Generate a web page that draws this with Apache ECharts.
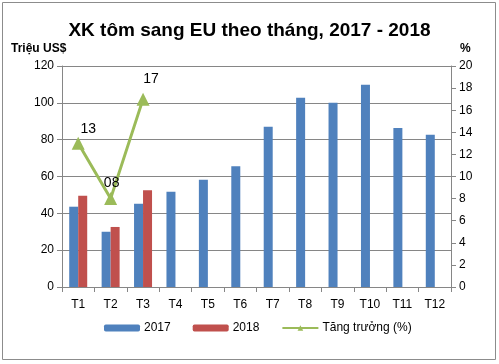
<!DOCTYPE html>
<html><head><meta charset="utf-8">
<script src="https://cdn.jsdelivr.net/npm/echarts@6/dist/echarts.min.js"></script>
<style>html,body{margin:0;padding:0;background:#fff}#c{width:499px;height:364px}</style>
</head><body><div id="c"></div>
<script>
var categories = ['T1','T2','T3','T4','T5','T6','T7','T8','T9','T10','T11','T12'];
var v2017 = [43.6, 30.0, 45.2, 51.7, 58.2, 65.6, 87.0, 102.7, 100.0, 109.8, 86.3, 82.7];
var v2018 = [49.5, 32.6, 52.6, null, null, null, null, null, null, null, null, null];
var growth = [13, 8, 17, null, null, null, null, null, null, null, null, null];
var leftTicks = [0, 120, 20];
var rightTicks = [0, 20, 2];

var font = 'Liberation Sans, Arial, sans-serif';
var labelOffsets = [[10, 5], [1, 4], [8, -1]];
var growthData = growth.map(function (v, i) {
  if (v == null) return null;
  return {value: v, label: {offset: labelOffsets[i] || [0, 0]}};
});
var chart = echarts.init(document.getElementById('c'));
chart.setOption({
  animation: false,
  textStyle: {fontFamily: font},
  graphic: [
    {type: 'rect', shape: {x: 2.5, y: 2.5, width: 493, height: 357}, style: {fill: 'none', stroke: '#8c8c8c', lineWidth: 1}, z: -1},
    {type: 'text', left: 'center', top: 21, style: {text: 'XK tôm sang EU theo tháng, 2017 - 2018', font: 'bold 19px ' + font, fill: '#000'}},
    {type: 'text', left: 11, top: 43, style: {text: 'Triệu US$', font: 'bold 12px ' + font, fill: '#000'}},
    {type: 'text', left: 460, top: 43, style: {text: '%', font: 'bold 12px ' + font, fill: '#000'}}
  ],
  grid: {left: 62, right: 48, top: 66, bottom: 77},
  legend: {
    bottom: 25, left: 99, itemGap: 22, itemWidth: 36, itemHeight: 7,
    textStyle: {fontSize: 12, color: '#000', fontFamily: font, padding: [0, 0, 0, -1]},
    data: ['2017', '2018', 'Tăng trưởng (%)']
  },
  xAxis: {
    type: 'category', data: categories,
    axisLine: {lineStyle: {color: '#868686'}},
    axisTick: {show: true, alignWithLabel: false, length: 5, lineStyle: {color: '#868686'}},
    axisLabel: {color: '#000', fontSize: 12, margin: 12}
  },
  yAxis: [
    {type: 'value', min: leftTicks[0], max: leftTicks[1], interval: leftTicks[2],
     axisLine: {show: true, lineStyle: {color: '#868686'}},
     axisTick: {show: true, length: 5, lineStyle: {color: '#868686'}},
     axisLabel: {color: '#000', fontSize: 12, margin: 8},
     splitLine: {lineStyle: {color: '#868686'}}},
    {type: 'value', min: rightTicks[0], max: rightTicks[1], interval: rightTicks[2],
     axisLine: {show: true, lineStyle: {color: '#868686'}},
     axisTick: {show: true, length: 5, lineStyle: {color: '#868686'}},
     axisLabel: {color: '#000', fontSize: 12, margin: 8},
     splitLine: {show: false}}
  ],
  series: [
    {name: '2017', type: 'bar', data: v2017, barWidth: 9, barGap: '0%', itemStyle: {color: '#4F81BD'}},
    {name: '2018', type: 'bar', data: v2018, barWidth: 9, itemStyle: {color: '#C0504D'}},
    {name: 'Tăng trưởng (%)', type: 'line', yAxisIndex: 1, data: growthData,
     symbol: 'triangle', symbolSize: 13, lineStyle: {width: 3, color: '#9BBB59'},
     itemStyle: {color: '#9BBB59'},
     label: {show: true, position: 'top', distance: 6, color: '#000', fontSize: 14,
       formatter: function (p) { var s = String(p.value); return s.length < 2 ? '0' + s : s; }}}
  ]
});
</script></body></html>
